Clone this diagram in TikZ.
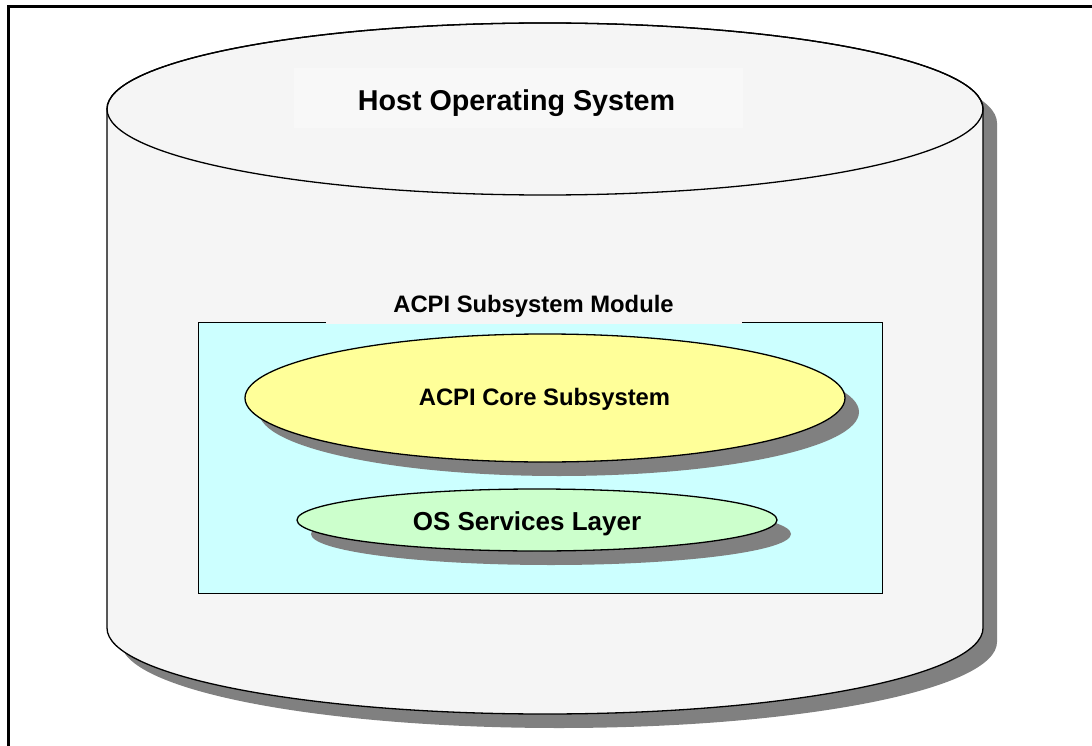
\documentclass[tikz,border=0pt]{standalone}
\usepackage{fontspec}
\setmainfont{Liberation Sans}
\usetikzlibrary{shapes.geometric,shadows}
\definecolor{cylfill}{HTML}{F5F5F5}
\definecolor{hostbg}{HTML}{F8F8F8}
\definecolor{modfill}{HTML}{CCFFFF}
\definecolor{corefill}{HTML}{FFFF99}
\definecolor{osfill}{HTML}{CCFFCC}
\definecolor{shadowgray}{HTML}{808080}
\begin{document}
\begin{tikzpicture}[x=1pt,y=-1pt,
  outline/.style={draw=black,line width=1.3pt},
  grayshadow/.style={drop shadow={shadow xshift=14pt,shadow yshift=-14pt,fill=shadowgray,opacity=1}},
  oval/.style={ellipse,outline,inner sep=0pt,grayshadow},
  lbl/.style={font=\bfseries\fontsize{23.8}{26}\selectfont,anchor=base,inner sep=0pt}]
\useasboundingbox (0,0) rectangle (1092,746);
% frame
\draw[line width=2.2pt] (8.5,746) -- (8.5,6.5) -- (1092,6.5);
% cylinder shadow
\fill[shadowgray,shift={(14,14)}] (107,109) -- (107,628)
  arc[start angle=180,end angle=0,x radius=438,y radius=86] -- (983,109)
  arc[start angle=0,end angle=-180,x radius=438,y radius=86] -- cycle;
% cylinder
\filldraw[fill=cylfill,outline] (107,109) -- (107,628)
  arc[start angle=180,end angle=0,x radius=438,y radius=86] -- (983,109)
  arc[start angle=0,end angle=-180,x radius=438,y radius=86] -- cycle;
\draw[outline] (545,109) ellipse[x radius=438,y radius=86];
% host label
\fill[hostbg] (294,68) rectangle (743,128);
\node[font=\bfseries\fontsize{28.7}{31}\selectfont,anchor=base,inner sep=0pt] (host) at (516.5,111) {Host Operating System};
% module
\node[draw=black,line width=1pt,fill=modfill,rectangle,inner sep=0pt,
  minimum width=684pt,minimum height=271pt] (module) at (540,457.5) {};
\fill[cylfill] (326,286) rectangle (742,323.6);
\node[lbl] (modlabel) at (533.5,312) {ACPI Subsystem Module};
% core
\node[oval,fill=corefill,minimum width=600pt,minimum height=128pt] (core) at (545,398) {};
\node[lbl] (corelabel) at (544.5,405) {ACPI Core Subsystem};
% os services
\node[oval,fill=osfill,minimum width=480pt,minimum height=62pt] (os) at (537,520) {};
\node[lbl,font=\bfseries\fontsize{26}{28}\selectfont] (oslabel) at (527,530) {OS Services Layer};
\end{tikzpicture}
\end{document}
